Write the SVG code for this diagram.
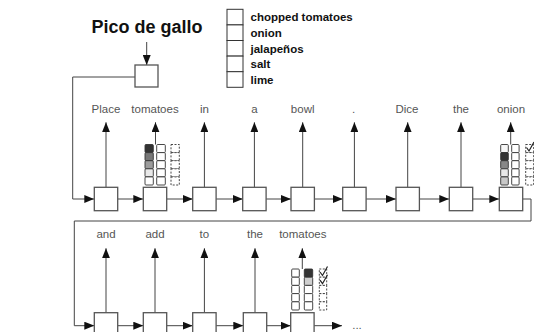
<svg xmlns="http://www.w3.org/2000/svg" width="534" height="332" viewBox="0 0 534 332">
<defs>
<marker id="ah" viewBox="0 0 10 8" refX="10" refY="4" markerWidth="10" markerHeight="8" orient="auto" markerUnits="userSpaceOnUse">
<path d="M0,0 L10,4 L0,8 z" fill="#111"/>
</marker>
</defs>
<style>
.box{fill:#fff;stroke:#555;stroke-width:1.3}
.lbox{fill:#fff;stroke:#333;stroke-width:1}
.arr{fill:none;stroke:#444;stroke-width:1;marker-end:url(#ah)}
.word{font-family:"Liberation Sans",Arial,sans-serif;font-size:11.5px;fill:#555;text-anchor:middle}
.leg{font-family:"Liberation Sans",Arial,sans-serif;font-size:11.5px;font-weight:bold;fill:#111}
.title{font-family:"Liberation Sans",Arial,sans-serif;font-size:18px;font-weight:bold;fill:#111;text-anchor:middle}
.cell{stroke:#333;stroke-width:0.9}
.dash{fill:#fff;stroke:#333;stroke-width:0.9;stroke-dasharray:2 1.5}
.chk{fill:none;stroke:#222;stroke-width:1.2}
</style>

<g id="title">
<text class="title" x="147" y="33">Pico de gallo</text>
</g>

<g id="legend">
<rect class="lbox" x="227" y="9.3" width="16" height="15.6"/>
<rect class="lbox" x="227" y="24.9" width="16" height="15.6"/>
<rect class="lbox" x="227" y="40.5" width="16" height="15.6"/>
<rect class="lbox" x="227" y="56.1" width="16" height="15.6"/>
<rect class="lbox" x="227" y="71.7" width="16" height="15.6"/>
<text class="leg" x="250.5" y="21.3">chopped tomatoes</text>
<text class="leg" x="250.5" y="36.9">onion</text>
<text class="leg" x="250.5" y="52.5">jalapeños</text>
<text class="leg" x="250.5" y="68.1">salt</text>
<text class="leg" x="250.5" y="83.7">lime</text>
</g>

<g id="connectors">
<line class="arr" x1="146.7" y1="42" x2="146.7" y2="65"/>
<path class="arr" d="M135,77 H72.7 V199 H94.3"/>
<line class="arr" x1="117.7" y1="199" x2="143.3" y2="199"/>
<line class="arr" x1="166.7" y1="199" x2="192.7" y2="199"/>
<line class="arr" x1="216.1" y1="199" x2="242.7" y2="199"/>
<line class="arr" x1="266.1" y1="199" x2="291" y2="199"/>
<line class="arr" x1="314.4" y1="199" x2="342.7" y2="199"/>
<line class="arr" x1="366.1" y1="199" x2="396" y2="199"/>
<line class="arr" x1="419.4" y1="199" x2="449.3" y2="199"/>
<line class="arr" x1="472.7" y1="199" x2="499.3" y2="199"/>
<path class="arr" d="M522.7,199 H531 V221 H74.3 V325.7 H94.3"/>
<line class="arr" x1="117.7" y1="325.7" x2="143.3" y2="325.7"/>
<line class="arr" x1="166.7" y1="325.7" x2="192.7" y2="325.7"/>
<line class="arr" x1="216.1" y1="325.7" x2="243.3" y2="325.7"/>
<line class="arr" x1="266.7" y1="325.7" x2="290.7" y2="325.7"/>
<line class="arr" x1="314.1" y1="325.7" x2="342" y2="325.7"/>
<line class="arr" x1="106" y1="187.3" x2="106" y2="122.3"/>
<line class="arr" x1="155.5" y1="144.5" x2="155.5" y2="122.3"/>
<line class="arr" x1="204.4" y1="187.3" x2="204.4" y2="122.3"/>
<line class="arr" x1="254.4" y1="187.3" x2="254.4" y2="122.3"/>
<line class="arr" x1="302.7" y1="187.3" x2="302.7" y2="122.3"/>
<line class="arr" x1="354.4" y1="187.3" x2="354.4" y2="122.3"/>
<line class="arr" x1="407.7" y1="187.3" x2="407.7" y2="122.3"/>
<line class="arr" x1="461" y1="187.3" x2="461" y2="122.3"/>
<line class="arr" x1="510.7" y1="144.5" x2="510.7" y2="122.3"/>
<line class="arr" x1="106" y1="312.7" x2="106" y2="248.3"/>
<line class="arr" x1="155" y1="312.7" x2="155" y2="248.3"/>
<line class="arr" x1="204.4" y1="312.7" x2="204.4" y2="248.3"/>
<line class="arr" x1="255" y1="312.7" x2="255" y2="248.3"/>
<line class="arr" x1="302.3" y1="269" x2="302.3" y2="248.3"/>
</g>

<g id="pico-box"><rect class="box" x="135" y="65" width="23" height="22"/></g>

<g id="row1-words">
<text class="word" x="106" y="113">Place</text>
<text class="word" x="155" y="113">tomatoes</text>
<text class="word" x="204.4" y="113">in</text>
<text class="word" x="254.4" y="113">a</text>
<text class="word" x="302.7" y="113">bowl</text>
<text class="word" x="353.5" y="113">.</text>
<text class="word" x="407" y="113">Dice</text>
<text class="word" x="461" y="113">the</text>
<text class="word" x="511" y="113">onion</text>
</g>

<g id="n1"><rect class="box" x="94.3" y="187.3" width="23.4" height="23.4"/></g>
<g id="n2"><rect class="box" x="143.3" y="187.3" width="23.4" height="23.4"/></g>
<g id="n3"><rect class="box" x="192.7" y="187.3" width="23.4" height="23.4"/></g>
<g id="n4"><rect class="box" x="242.7" y="187.3" width="23.4" height="23.4"/></g>
<g id="n5"><rect class="box" x="291" y="187.3" width="23.4" height="23.4"/></g>
<g id="n6"><rect class="box" x="342.7" y="187.3" width="23.4" height="23.4"/></g>
<g id="n7"><rect class="box" x="396" y="187.3" width="23.4" height="23.4"/></g>
<g id="n8"><rect class="box" x="449.3" y="187.3" width="23.4" height="23.4"/></g>
<g id="n9"><rect class="box" x="499.3" y="187.3" width="23.4" height="23.4"/></g>

<g id="att-tomatoes-1">
<rect class="cell" x="145" y="144.5" width="8.3" height="8.1" fill="#333" rx="1"/>
<rect class="cell" x="145" y="152.6" width="8.3" height="8.1" fill="#777" rx="1"/>
<rect class="cell" x="145" y="160.7" width="8.3" height="8.1" fill="#9c9c9c" rx="1"/>
<rect class="cell" x="145" y="168.8" width="8.3" height="8.1" fill="#e8e8e8" rx="1"/>
<rect class="cell" x="145" y="176.9" width="8.3" height="8.1" fill="#fff" rx="1"/>
<rect class="cell" x="156.7" y="144.5" width="8.6" height="8.1" fill="#fff" rx="1"/>
<rect class="cell" x="156.7" y="152.6" width="8.6" height="8.1" fill="#fff" rx="1"/>
<rect class="cell" x="156.7" y="160.7" width="8.6" height="8.1" fill="#fff" rx="1"/>
<rect class="cell" x="156.7" y="168.8" width="8.6" height="8.1" fill="#fff" rx="1"/>
<rect class="cell" x="156.7" y="176.9" width="8.6" height="8.1" fill="#fff" rx="1"/>
<rect class="dash" x="171" y="144.5" width="8.3" height="8.1"/>
<rect class="dash" x="171" y="152.6" width="8.3" height="8.1"/>
<rect class="dash" x="171" y="160.7" width="8.3" height="8.1"/>
<rect class="dash" x="171" y="168.8" width="8.3" height="8.1"/>
<rect class="dash" x="171" y="176.9" width="8.3" height="8.1"/>
</g>

<g id="att-onion">
<rect class="cell" x="500.7" y="144.5" width="7.6" height="8.1" fill="#f6f6f6" rx="1"/>
<rect class="cell" x="500.7" y="152.6" width="7.6" height="8.1" fill="#333" rx="1"/>
<rect class="cell" x="500.7" y="160.7" width="7.6" height="8.1" fill="#888" rx="1"/>
<rect class="cell" x="500.7" y="168.8" width="7.6" height="8.1" fill="#e8e8e8" rx="1"/>
<rect class="cell" x="500.7" y="176.9" width="7.6" height="8.1" fill="#c8c8c8" rx="1"/>
<rect class="cell" x="511.7" y="144.5" width="7.4" height="8.1" fill="#fff" rx="1"/>
<rect class="cell" x="511.7" y="152.6" width="7.4" height="8.1" fill="#fff" rx="1"/>
<rect class="cell" x="511.7" y="160.7" width="7.4" height="8.1" fill="#fff" rx="1"/>
<rect class="cell" x="511.7" y="168.8" width="7.4" height="8.1" fill="#fff" rx="1"/>
<rect class="cell" x="511.7" y="176.9" width="7.4" height="8.1" fill="#fff" rx="1"/>
<rect class="dash" x="525.7" y="144.5" width="8" height="8.1"/>
<rect class="dash" x="525.7" y="152.6" width="8" height="8.1"/>
<rect class="dash" x="525.7" y="160.7" width="8" height="8.1"/>
<rect class="dash" x="525.7" y="168.8" width="8" height="8.1"/>
<rect class="dash" x="525.7" y="176.9" width="8" height="8.1"/>
<path class="chk" d="M526.5,147.5 L529,151 L534,142"/>
</g>

<g id="row2-words">
<text class="word" x="106" y="238">and</text>
<text class="word" x="155" y="238">add</text>
<text class="word" x="204.4" y="238">to</text>
<text class="word" x="255" y="238">the</text>
<text class="word" x="302.8" y="238">tomatoes</text>
</g>

<g id="m1"><rect class="box" x="94.3" y="312.7" width="23.4" height="23.4"/></g>
<g id="m2"><rect class="box" x="143.3" y="312.7" width="23.4" height="23.4"/></g>
<g id="m3"><rect class="box" x="192.7" y="312.7" width="23.4" height="23.4"/></g>
<g id="m4"><rect class="box" x="243.3" y="312.7" width="23.4" height="23.4"/></g>
<g id="m5"><rect class="box" x="290.7" y="312.7" width="23.4" height="23.4"/></g>

<g id="att-tomatoes-2">
<rect class="cell" x="291.7" y="269" width="7.6" height="8.2" fill="#fff" rx="1"/>
<rect class="cell" x="291.7" y="277.2" width="7.6" height="8.2" fill="#fff" rx="1"/>
<rect class="cell" x="291.7" y="285.4" width="7.6" height="8.2" fill="#fff" rx="1"/>
<rect class="cell" x="291.7" y="293.6" width="7.6" height="8.2" fill="#fff" rx="1"/>
<rect class="cell" x="291.7" y="301.8" width="7.6" height="8.2" fill="#fff" rx="1"/>
<rect class="cell" x="304.3" y="269" width="8.4" height="8.2" fill="#333" rx="1"/>
<rect class="cell" x="304.3" y="277.2" width="8.4" height="8.2" fill="#cfcfcf" rx="1"/>
<rect class="cell" x="304.3" y="285.4" width="8.4" height="8.2" fill="#fff" rx="1"/>
<rect class="cell" x="304.3" y="293.6" width="8.4" height="8.2" fill="#fff" rx="1"/>
<rect class="cell" x="304.3" y="301.8" width="8.4" height="8.2" fill="#fff" rx="1"/>
<rect class="dash" x="319.3" y="269" width="7.4" height="8.2"/>
<rect class="dash" x="319.3" y="277.2" width="7.4" height="8.2"/>
<rect class="dash" x="319.3" y="285.4" width="7.4" height="8.2"/>
<rect class="dash" x="319.3" y="293.6" width="7.4" height="8.2"/>
<rect class="dash" x="319.3" y="301.8" width="7.4" height="8.2"/>
<path class="chk" d="M320,272 L322.5,275.5 L327.5,266.5"/>
<path class="chk" d="M320,280.2 L322.5,283.7 L327.5,274.7"/>
</g>

<g id="ellipsis"><text class="word" x="357" y="329">...</text></g>
</svg>
